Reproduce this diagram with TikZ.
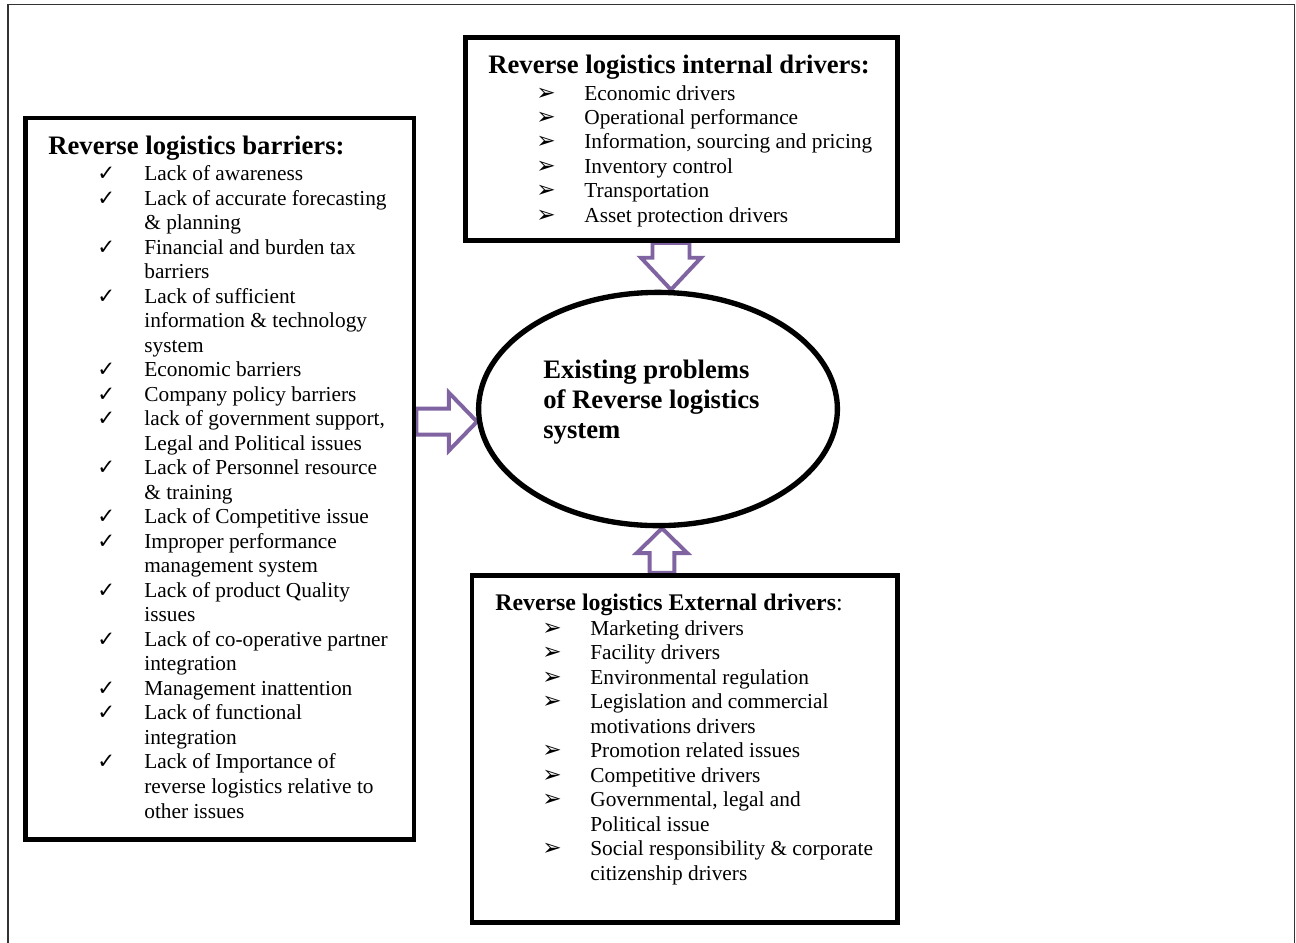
\documentclass[tikz,border=0pt]{standalone}
\usepackage{fontspec}
\setmainfont{Liberation Serif}
\newfontfamily\symfont{DejaVu Sans}
\usetikzlibrary{calc,fit,shapes.geometric,backgrounds}
\definecolor{arrowpurple}{RGB}{128,100,162}

% block arrow: #1 tail, #2 tip, #3 shaft half width, #4 head half width, #5 head length
\newcommand\blockarrow[5]{%
  \coordinate (ba-h) at ($(#2)!#5!(#1)$);
  \draw[barrow] ($(#1)!#3!90:(#2)$) -- ($(ba-h)!#3!-90:(#1)$)
    -- ($(ba-h)!#4!-90:(#1)$) -- (#2) -- ($(ba-h)!#4!90:(#1)$)
    -- ($(ba-h)!#3!90:(#1)$) -- ($(#1)!#3!-90:(#2)$) -- cycle;
}

\tikzset{
  panel/.style={draw, rectangle, line width=2.8pt, inner sep=0pt},
  core/.style={draw, ellipse, line width=3pt, inner sep=0pt},
  barrow/.style={draw=arrowpurple, line width=2.2pt, fill=white, line join=miter},
  txt/.style={anchor=base west, inner sep=0pt, font=\fontsize{12}{14}\selectfont},
  headline/.style={anchor=base west, inner sep=0pt, font=\fontsize{15}{17}\selectfont\bfseries},
  tick/.style={anchor=base west, inner sep=0pt, font=\symfont\fontsize{12}{14}\selectfont},
  pointer/.style={anchor=base west, inner sep=0pt, font=\symfont\fontsize{13}{14}\selectfont},
}

\begin{document}
\begin{tikzpicture}[x=0.5625pt,y=-0.5625pt]
\useasboundingbox (0,0) rectangle (1296,942);

% page frame
\draw[line width=0.6pt, black!80] (8,960) -- (8,4.3) -- (1294.5,4.3) -- (1294.5,960);

% panels and the central ellipse
\node[panel, fit={(25.7,118) (414,839.5)}] (barriers) {};
\node[panel, fit={(465.7,37.5) (897.5,240.5)}] (internal) {};
\node[panel, fit={(472,575.3) (897.5,922.5)}] (external) {};
\node[core, minimum width=201.8pt, minimum height=131.2pt] (core) at (658,409) {};

% central text
\node[headline] (c1) at (543,378) {Existing problems};
\node[headline] (c2) at (543,408) {of Reverse logistics};
\node[headline] (c3) at (543,438) {system};

% barriers
\node[headline] (bh) at (48,154) {Reverse logistics barriers:};
\foreach \b/\t [count=\i from 0] in {
  1/Lack of awareness,
  1/Lack of accurate forecasting,
  0/\& planning,
  1/Financial and burden tax,
  0/barriers,
  1/Lack of sufficient,
  0/information \& technology,
  0/system,
  1/Economic barriers,
  1/Company policy barriers,
  {1/lack of government support,},
  0/Legal and Political issues,
  1/Lack of Personnel resource,
  0/\& training,
  1/Lack of Competitive issue,
  1/Improper performance,
  0/management system,
  1/Lack of product Quality,
  0/issues,
  1/Lack of co-operative partner,
  0/integration,
  1/Management inattention,
  1/Lack of functional,
  0/integration,
  1/Lack of Importance of,
  0/reverse logistics relative to,
  0/other issues}{
  \node[txt] (b-\i) at (144,180.5+24.52*\i) {\t};
  \ifnum\b=1 \node[tick] (bt-\i) at (97,180.5+24.52*\i) {✓}; \fi
}

% internal drivers
\node[headline] (ih) at (488,73) {Reverse logistics internal drivers:};
\foreach \t [count=\i from 0] in {
  Economic drivers,
  Operational performance,
  {Information, sourcing and pricing},
  Inventory control,
  Transportation,
  Asset protection drivers}{
  \node[txt] (i-\i) at (584,100+24.4*\i) {\t};
  \node[pointer] (it-\i) at (536,100+24.4*\i) {➢};
}

% external drivers
\node[anchor=base west, inner sep=0pt, font=\fontsize{13.4}{15}\selectfont] (eh) at (495,610)
  {\textbf{Reverse logistics External drivers}:};
\foreach \b/\t [count=\i from 0] in {
  1/Marketing drivers,
  1/Facility drivers,
  1/Environmental regulation,
  1/Legislation and commercial,
  0/motivations drivers,
  1/Promotion related issues,
  1/Competitive drivers,
  {1/Governmental, legal and},
  0/Political issue,
  1/Social responsibility \& corporate,
  0/citizenship drivers}{
  \node[txt] (e-\i) at (590,635+24.5*\i) {\t};
  \ifnum\b=1 \node[pointer] (et-\i) at (542,635+24.5*\i) {➢}; \fi
}

% block arrows into the ellipse, kept behind the panel borders
\begin{scope}[on background layer]
\coordinate (lt) at (core.184.5);
\coordinate (lf) at (barriers.east |- lt);
\blockarrow{lf}{lt}{7.3pt}{16.3pt}{15.8pt}
\coordinate (tt) at (core.north -| 671,0);
\coordinate (tf) at (internal.south -| tt);
\blockarrow{tf}{tt}{10.4pt}{16.9pt}{18pt}
\coordinate (ut) at (core.south -| 662,0);
\coordinate (uf) at (external.north -| ut);
\blockarrow{uf}{ut}{7pt}{14.3pt}{14pt}
\end{scope}
\end{tikzpicture}
\end{document}
